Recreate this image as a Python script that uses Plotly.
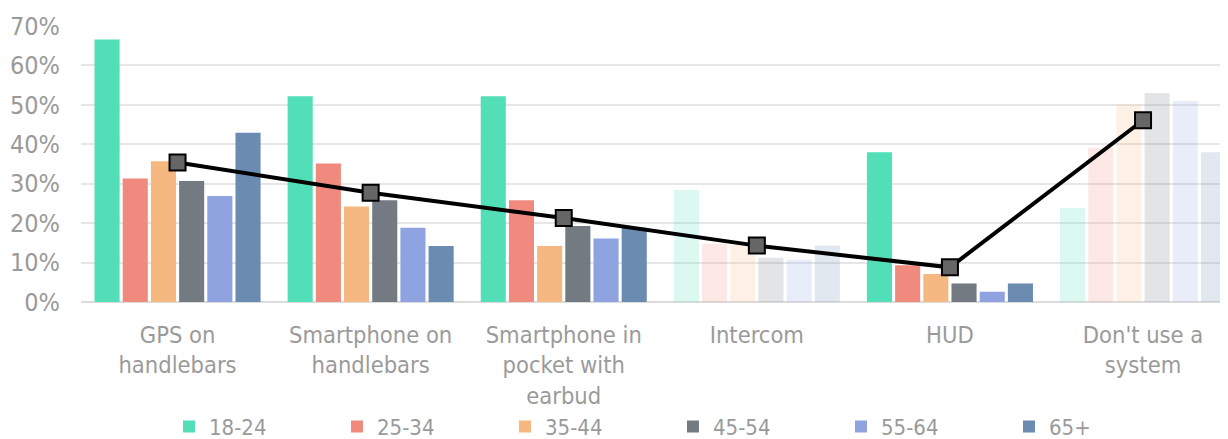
import plotly.graph_objects as go

categories = ["GPS on<br>handlebars", "Smartphone on<br>handlebars", "Smartphone in<br>pocket with<br>earbud",
              "Intercom", "HUD", "Don't use a<br>system"]
age_groups = ["18-24", "25-34", "35-44", "45-54", "55-64", "65+"]

v_18_24 = [66.6, 52.2, 52.2, 28.4, 38.0, 23.9]
v_25_34 = [31.3, 35.1, 25.8, 14.8, 9.3, 39.1]
v_35_44 = [35.7, 24.2, 14.2, 14.5, 7.1, 50.1]
v_45_54 = [30.7, 25.8, 19.3, 11.2, 4.7, 53.0]
v_55_64 = [26.9, 18.8, 16.1, 10.7, 2.6, 51.0]
v_65_plus = [42.9, 14.2, 18.8, 14.3, 4.7, 38.0]
overall = [35.4, 27.7, 21.3, 14.3, 8.8, 46.1]

faded = [False, False, False, True, False, True]

colors = ["#52DFB8", "#F08A7E", "#F5B881", "#737A82", "#8FA3E0", "#6C8BB1"]
series = [v_18_24, v_25_34, v_35_44, v_45_54, v_55_64, v_65_plus]

FONT = "DejaVu Sans Condensed, DejaVu Sans, sans-serif"
GRAY = "#9a9a9a"

fig = go.Figure()
opac = [0.2 if f else 1.0 for f in faded]
for name, vals, col in zip(age_groups, series, colors):
    fig.add_trace(go.Bar(
        x=categories, y=[v / 100 for v in vals], name=name,
        marker=dict(color=col, opacity=opac, line=dict(width=0)),
        hoverinfo="skip",
    ))

fig.add_trace(go.Scatter(
    x=categories, y=[v / 100 for v in overall], mode="lines+markers",
    line=dict(color="black", width=4),
    marker=dict(symbol="square", size=16, color="#666666", line=dict(color="black", width=2)),
    showlegend=False, cliponaxis=False,
))

# page body has an 8px default margin, so the figure is sized/offset to compensate
fig.update_layout(
    width=1220, height=431,
    margin=dict(l=73, r=0, t=18, b=137, autoexpand=False),
    paper_bgcolor="white", plot_bgcolor="white",
    barmode="group", bargap=0.124, bargroupgap=0.11,
    font=dict(family=FONT, size=23, color=GRAY),
    legend=dict(orientation="h", x=0.0767, xanchor="left", y=-0.452, yanchor="middle",
                font=dict(family=FONT, size=22, color=GRAY),
                entrywidth=123, entrywidthmode="pixels", traceorder="normal"),
    xaxis=dict(range=[-0.5, 5.44], showgrid=False, showline=False, ticks="",
               automargin=False, ticklabelstandoff=16,
               tickfont=dict(family=FONT, size=23.5, color=GRAY)),
    yaxis=dict(range=[0, 0.7], dtick=0.1, tickformat=".0%", showgrid=True,
               gridcolor="#e6e6e6", gridwidth=2, zeroline=True, zerolinecolor="#dcdcdc",
               zerolinewidth=2, showline=False, ticks="", ticklabelstandoff=20,
               automargin=False,
               tickfont=dict(family=FONT, size=25, color=GRAY)),
)

fig.write_html("out.html")
